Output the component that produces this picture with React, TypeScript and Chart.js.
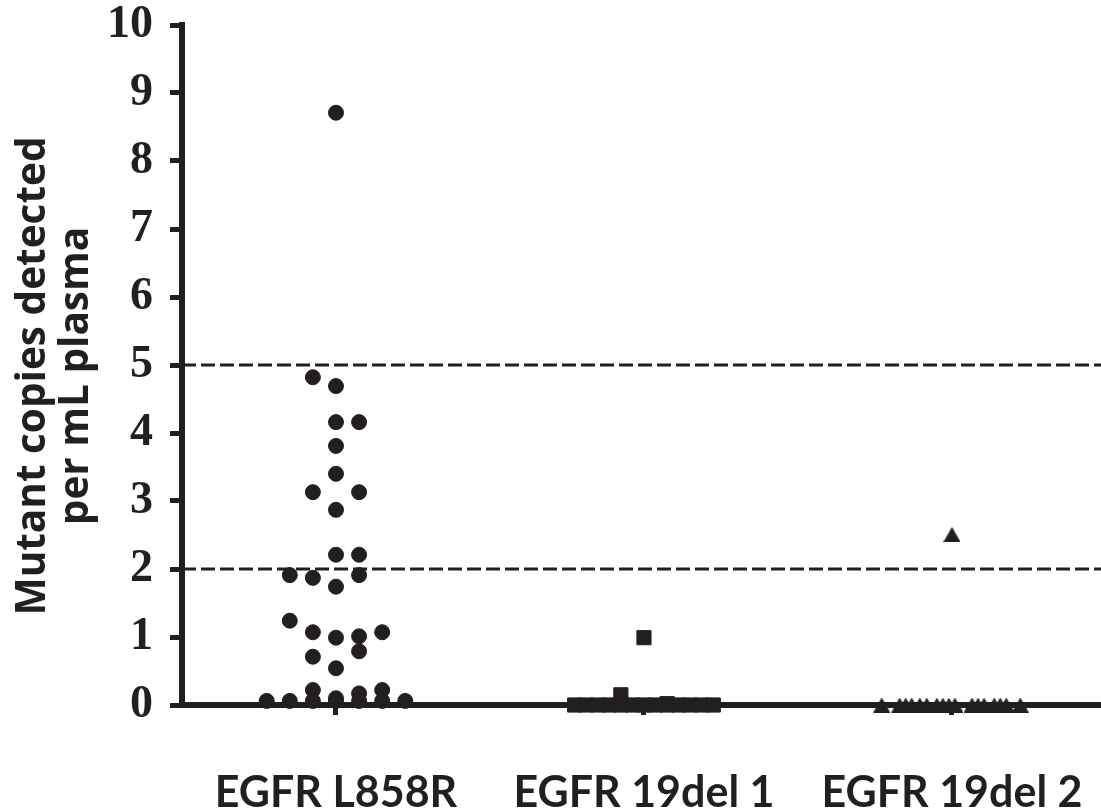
import React, { useEffect, useRef } from 'react';
import { Chart, registerables } from 'chart.js';

Chart.register(...registerables);

// ---------- data ----------
const categories = ['EGFR L858R', 'EGFR 19del 1', 'EGFR 19del 2'];
const yTickValues = [0, 1, 2, 3, 4, 5, 6, 7, 8, 9, 10];
const thresholds = [5, 2];
const yTitleLines = ['Mutant copies detected', 'per mL plasma'];

// EGFR L858R: value and beeswarm slot (column) relative to category centre
const l858rValues = [
  8.71, 4.82, 4.69, 4.16, 4.16, 3.81, 3.4, 3.13, 3.13, 2.87,
  2.21, 2.21, 1.91, 1.87, 1.74, 1.91, 1.24, 1.07, 0.99, 1.01,
  1.07, 0.71, 0.79, 0.54, 0.22, 0.1, 0.17, 0.22,
  0.06, 0.06, 0.06, 0.06, 0.06, 0.06, 0.06,
];
const l858rSlots = [
  0, -1, 0, 0, 1, 0, 0, -1, 1, 0,
  0, 1, -2, -1, 0, 1, -2, -1, 0, 1,
  2, -1, 1, 0, -1, 0, 1, 2,
  -3, -2, -1, 0, 1, 2, 3,
];

// EGFR 19del 1
const del1Values = [0.99, 0.15, 0.02, 0, 0, 0, 0, 0, 0, 0, 0, 0, 0, 0, 0, 0];
const del1Slots = [0, -1, 1, -3, -2.5, -2, -1.5, -1, -0.5, 0, 0.5, 1.5, 2, 2.5, 3, 1];

// EGFR 19del 2
const del2Values = [2.51, 0, 0, 0, 0, 0, 0, 0, 0, 0, 0, 0, 0, 0, 0, 0, 0, 0];
const del2Slots = [
  0, -3.04, -2.26, -2.0, -1.74, -1.39, -1.09, -0.65, -0.39, -0.13,
  0.13, 0.87, 1.13, 1.39, 1.83, 2.09, 2.35, 2.96,
];

const INK = '#231f20';
const SLOT = 0.075; // width of one swarm column, in category units

function swarm(catIndex: number, values: number[], slots: number[]) {
  return values.map((v, i) => ({ x: catIndex + slots[i] * SLOT, y: v }));
}

function makeTriangle(): HTMLCanvasElement {
  const c = document.createElement('canvas');
  c.width = 17;
  c.height = 15;
  const g = c.getContext('2d')!;
  g.fillStyle = INK;
  g.beginPath();
  g.moveTo(8.5, 0);
  g.lineTo(17, 15);
  g.lineTo(0, 15);
  g.closePath();
  g.fill();
  return c;
}

const yTitlePlugin = {
  id: 'yTitle',
  afterDraw(chart: any) {
    const ctx = chart.ctx as CanvasRenderingContext2D;
    ctx.save();
    ctx.fillStyle = INK;
    ctx.font = 'bold 40.5px "Open Sans"';
    ctx.textAlign = 'center';
    ctx.textBaseline = 'middle';
    ctx.translate(33, 376);
    ctx.rotate(-Math.PI / 2);
    yTitleLines.forEach((line, i) => ctx.fillText(line, 0, i * 43));
    ctx.restore();
  },
};

export default function App() {
  const canvasRef = useRef<HTMLCanvasElement | null>(null);

  useEffect(() => {
    document.body.style.margin = '0';
    const canvas = canvasRef.current;
    if (!canvas) return;

    const triangle = makeTriangle();

    const thresholdSets = thresholds.map((t) => ({
      type: 'line' as const,
      data: [
        { x: -0.5, y: t },
        { x: 2.6, y: t },
      ],
      borderColor: INK,
      borderWidth: 3,
      borderDash: [14, 5],
      pointRadius: 0,
      fill: false,
    }));

    const chart = new Chart(canvas, {
      type: 'scatter',
      data: {
        datasets: [
          {
            type: 'scatter',
            data: swarm(0, l858rValues, l858rSlots),
            pointStyle: 'circle',
            pointRadius: 7.5,
            backgroundColor: INK,
            borderColor: INK,
            borderWidth: 1,
            clip: false,
          },
          {
            type: 'scatter',
            data: swarm(1, del1Values, del1Slots),
            pointStyle: 'rect',
            pointRadius: 10,
            backgroundColor: INK,
            borderColor: INK,
            borderWidth: 1,
            clip: false,
          },
          {
            type: 'scatter',
            data: swarm(2, del2Values, del2Slots),
            pointStyle: triangle,
            pointRadius: 8.5,
            backgroundColor: INK,
            borderColor: INK,
            borderWidth: 0,
            clip: false,
          },
          ...thresholdSets,
        ] as any,
      },
      options: {
        responsive: false,
        animation: false,
        events: [],
        layout: { autoPadding: false, padding: { top: 25, right: 0, left: 0, bottom: 0 } },
        plugins: {
          legend: { display: false },
          tooltip: { enabled: false },
        },
        scales: {
          x: {
            type: 'linear',
            min: -0.5,
            max: 2.484,
            afterBuildTicks: (scale: any) => {
              scale.ticks = categories.map((_, i) => ({ value: i }));
            },
            afterFit: (scale: any) => {
              scale.height = 103;
              scale.paddingLeft = 0;
              scale.paddingRight = 0;
              scale.paddingTop = 0;
              scale.paddingBottom = 0;
            },
            grid: {
              drawOnChartArea: false,
              drawTicks: true,
              tickLength: 10,
              tickWidth: 5,
              tickColor: INK,
            },
            border: { display: true, width: 6, color: INK },
            ticks: {
              autoSkip: false,
              maxRotation: 0,
              padding: 52,
              color: INK,
              font: { family: 'Lato', weight: 'bold', size: 43, lineHeight: 1.2 },
              callback: (v: any) => categories[Math.round(Number(v))] ?? '',
            },
          },
          y: {
            type: 'linear',
            min: 0,
            max: 10,
            afterBuildTicks: (scale: any) => {
              scale.ticks = yTickValues.map((v) => ({ value: v }));
            },
            afterFit: (scale: any) => {
              scale.width = 182;
              scale.paddingLeft = 0;
              scale.paddingRight = 0;
              scale.paddingTop = 0;
              scale.paddingBottom = 0;
            },
            grid: {
              drawOnChartArea: false,
              drawTicks: true,
              tickLength: 12,
              tickWidth: 5,
              tickColor: INK,
            },
            border: { display: true, width: 6, color: INK },
            ticks: {
              padding: 17,
              color: INK,
              font: { family: 'Liberation Serif', weight: 'bold', size: 46, lineHeight: 1 },
            },
            title: { display: false },
          },
        },
      } as any,
      plugins: [yTitlePlugin],
    });

    return () => {
      chart.destroy();
    };
  }, []);

  return (
    <div style={{ position: 'absolute', left: 0, top: 0, width: 1101, height: 808, background: '#fff' }}>
      <canvas ref={canvasRef} width={1101} height={808} style={{ display: 'block' }} />
    </div>
  );
}
